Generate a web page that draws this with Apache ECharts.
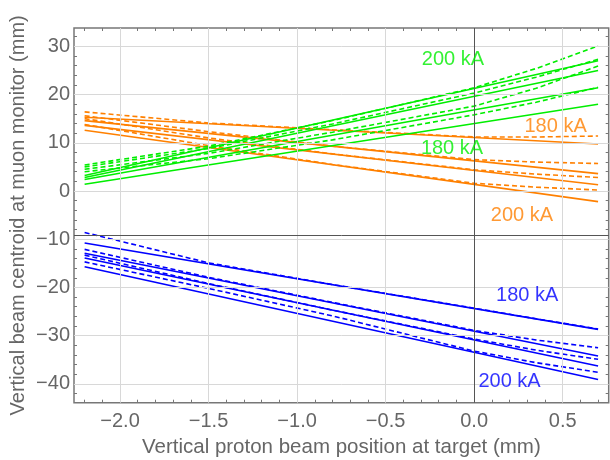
<!DOCTYPE html>
<html>
<head>
<meta charset="utf-8">
<script src="https://cdn.jsdelivr.net/npm/echarts@6/dist/echarts.min.js"></script>
<style>
  html, body { margin: 0; padding: 0; background: #fff; }
  #main { width: 610px; height: 460px; }
</style>
</head>
<body>
<div id="main"></div>
<script>
// x positions of the fitted lines and of the simulated (dashed) curves
var xFit = [-2.2, 0.7];
var xSim = [-2.2, -1.5, -0.8, 0, 0.35, 0.7];

// orange group: solid fits (y at xFit) and dashed curves (y at xSim)
var orangeFit = [[15.3, 9.75], [14.6, 3.6], [13.6, 1.3], [12.6, -2.2]];
var orangeSim = [
  [16.4, 14.1, 12.7, 11.2, 11.2, 11.4],
  [15.6, 12.3, 9.3, 6.5, 6.0, 5.7],
  [15.0, 11.0, 7.7, 4.4, 3.5, 2.8],
  [13.8, 9.4, 5.5, 1.6, 0.8, 0.2]
];

// green group
var greenFit = [[3.2, 27.0], [2.8, 25.0], [2.4, 21.4], [1.4, 18.0]];
var greenSim = [
  [5.4, 9.3, 14.6, 21.4, 25.4, 30.1],
  [5.0, 8.8, 13.9, 20.3, 23.6, 27.3],
  [4.5, 7.8, 12.2, 17.6, 21.3, 25.9],
  [4.0, 6.7, 10.6, 15.8, 18.4, 21.5]
];

// blue group
var blueFit = [[-10.8, -28.7], [-12.9, -34.2], [-13.9, -36.3], [-15.7, -39.1]];
var blueSim = [
  [-8.6, -14.9, -19.4, -24.3, -26.5, -28.6],
  [-12.1, -17.9, -23.1, -28.9, -30.9, -32.5],
  [-13.3, -19.2, -24.7, -30.7, -33.0, -34.9],
  [-14.7, -20.2, -25.9, -33.2, -35.6, -37.6]
];

// ticks
var xMajor = [-2, -1.5, -1, -0.5, 0, 0.5];
var xMinor = [-2.2, -2.1, -1.9, -1.8, -1.7, -1.6, -1.4, -1.3, -1.2, -1.1, -0.9, -0.8,
  -0.7, -0.6, -0.4, -0.3, -0.2, -0.1, 0.1, 0.2, 0.3, 0.4, 0.6, 0.7];
var yMajor = [30, 20, 10, 0, -10, -20, -30, -40];
var yMinor = [32, 28, 26, 24, 22, 18, 16, 14, 12, 8, 6, 4, 2, -2, -4, -6, -8,
  -12, -14, -16, -18, -22, -24, -26, -28, -32, -34, -36, -38, -42];
var xGrid = [-2, -1.5, -1, -0.5, 0.5];

// in-plot labels
var labelText = ['200 kA', '180 kA', '180 kA', '200 kA', '180 kA', '200 kA'];
var labelAt = [[-0.12, 27.2], [0.46, 13.4], [-0.125, 8.9], [0.27, -5.0], [0.30, -21.6], [0.20, -39.4]];

var ORANGE = '#ff8000', GREEN = '#00ee00', BLUE = '#0000ff';
var labelColor = [GREEN, ORANGE, GREEN, ORANGE, BLUE, BLUE];
var FONT = 'Liberation Sans, Arial, sans-serif';
var GRAY = '#666';

function minus(v) {
  return String(v).replace('-', '\u2212');
}

function xAx(pos, ticks, len, main) {
  var ax = {
    type: 'value', min: -2.26, max: 0.76, position: pos,
    axisLine: { show: false, onZero: false },
    axisTick: { show: true, inside: true, length: len, customValues: ticks, lineStyle: { color: '#777' } },
    axisLabel: { show: false },
    splitLine: { show: false }
  };
  if (main) {
    ax.axisLabel = {
      show: true, customValues: ticks, margin: 9, color: GRAY, fontSize: 20, fontFamily: FONT,
      formatter: function (v) { return minus(v.toFixed(1)); }
    };
    ax.name = 'Vertical proton beam position at target (mm)';
    ax.nameLocation = 'middle';
    ax.nameGap = 34;
    ax.nameMoveOverlap = false;
    ax.nameTextStyle = { color: GRAY, fontSize: 20.5, fontFamily: FONT };
  }
  return ax;
}

function yAx(pos, ticks, len, main) {
  var ax = {
    type: 'value', min: -43.9, max: 33.8, position: pos,
    axisLine: { show: false, onZero: false },
    axisTick: { show: true, inside: true, length: len, customValues: ticks, lineStyle: { color: '#777' } },
    axisLabel: { show: false },
    splitLine: { show: false }
  };
  if (main) {
    ax.axisLabel = {
      show: true, customValues: ticks, margin: 4, color: GRAY, fontSize: 20, fontFamily: FONT,
      formatter: function (v) { return minus(v); }
    };
    ax.name = 'Vertical beam centroid at muon monitor (mm)';
    ax.nameLocation = 'middle';
    ax.nameGap = 46;
    ax.nameMoveOverlap = false;
    ax.nameTextStyle = { color: GRAY, fontSize: 20, fontFamily: FONT };
  }
  return ax;
}

function pts(xs, ys) {
  return xs.map(function (x, i) { return [x, ys[i]]; });
}

function lineSeries(xs, ys, color, dashed) {
  return {
    type: 'line', data: pts(xs, ys), showSymbol: false, symbol: 'none', silent: true,
    animation: false, z: 3,
    lineStyle: { color: color, width: 1.6, type: dashed ? [5, 3] : 'solid' }
  };
}

var series = [];

// grid lines and the dark reference lines
series.push({
  type: 'line', data: [], silent: true, animation: false, z: 1,
  markLine: {
    silent: true, symbol: 'none', animation: false, label: { show: false },
    data: xGrid.map(function (v) { return { xAxis: v, lineStyle: { color: '#d8d8d8', width: 1, type: 'solid' } }; })
      .concat(yMajor.map(function (v) { return { yAxis: v, lineStyle: { color: '#d8d8d8', width: 1, type: 'solid' } }; }))
      .concat([
        { xAxis: 0, lineStyle: { color: '#555', width: 1, type: 'solid' } },
        { yAxis: -9.2, lineStyle: { color: '#555', width: 1, type: 'solid' } }
      ])
  }
});

[[orangeFit, orangeSim, ORANGE], [greenFit, greenSim, GREEN], [blueFit, blueSim, BLUE]].forEach(function (g) {
  g[0].forEach(function (ys) { series.push(lineSeries(xFit, ys, g[2], false)); });
  g[1].forEach(function (ys) { series.push(lineSeries(xSim, ys, g[2], true)); });
});

labelText.forEach(function (t, i) {
  series.push({
    type: 'scatter', data: [labelAt[i]], symbolSize: 0.1, silent: true, animation: false, z: 5,
    itemStyle: { color: 'rgba(0,0,0,0)' },
    label: { show: true, position: 'inside', formatter: t, color: labelColor[i], fontSize: 20, fontFamily: FONT }
  });
});

var myChart = echarts.init(document.getElementById('main'));
myChart.setOption({
  animation: false,
  grid: {
    left: 74, right: 1.3, top: 28, bottom: 57.3,
    show: true, borderColor: '#777', borderWidth: 1.5, backgroundColor: 'transparent',
    outerBoundsMode: 'none'
  },
  xAxis: [
    xAx('bottom', xMajor, 5, true),
    xAx('bottom', xMinor, 3, false),
    xAx('top', xMajor, 5, false),
    xAx('top', xMinor, 3, false)
  ],
  yAxis: [
    yAx('left', yMajor, 5, true),
    yAx('left', yMinor, 3, false),
    yAx('right', yMajor, 5, false),
    yAx('right', yMinor, 3, false)
  ],
  series: series
});
</script>
</body>
</html>
